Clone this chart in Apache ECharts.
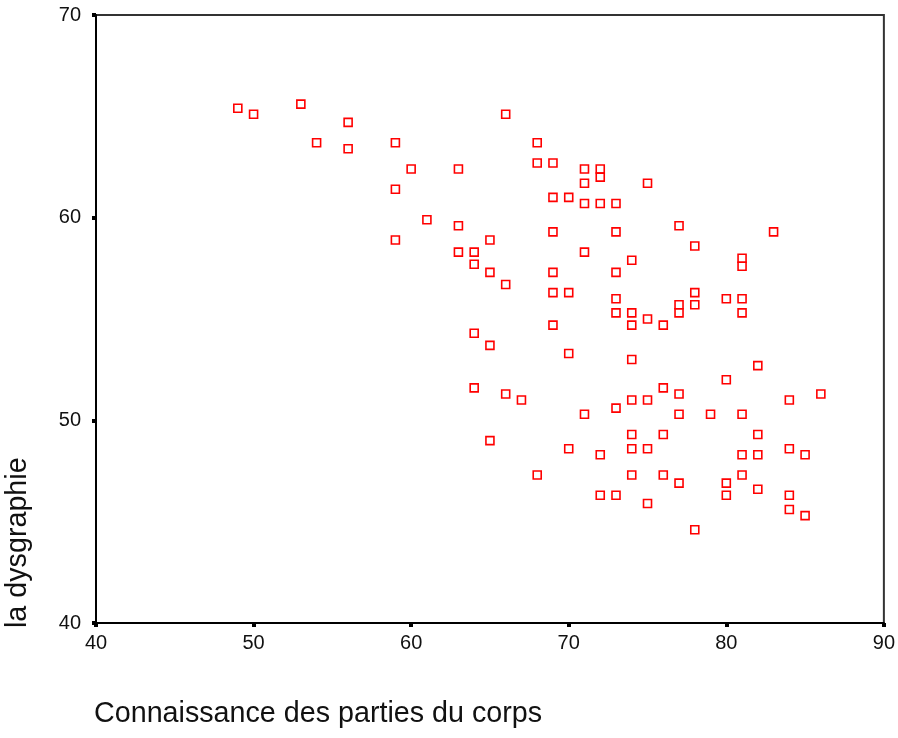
<!DOCTYPE html>
<html>
<head>
<meta charset="utf-8">
<script src="https://cdn.jsdelivr.net/npm/echarts@6/dist/echarts.min.js"></script>
<style>html,body{margin:0;padding:0;background:#fff}#c{width:898px;height:738px}</style>
</head>
<body>
<div id="c"></div>
<script>
const xTicks = [40, 50, 60, 70, 80, 90];
const yTicks = [40, 50, 60, 70];
const xTitle = "Connaissance des parties du corps";
const yTitle = "la dysgraphie";

const connaissance = [
  49, 50, 53, 56, 54, 56, 66, 59, 68, 60, 63, 68, 69, 71, 72, 72, 71, 75, 59, 69,
  70, 71, 72, 73, 61, 63, 59, 65, 69, 73, 77, 63, 64, 71, 64, 74, 65, 69, 73, 66,
  69, 70, 73, 73, 74, 74, 75, 76, 77, 77, 69, 64, 83, 78, 81, 81, 78, 80, 81, 78,
  81, 65, 70, 74, 64, 66, 67, 71, 73, 74, 75, 76, 65, 70, 72, 74, 74, 75, 76, 68,
  74, 76, 72, 73, 75, 82, 80, 77, 84, 86, 77, 79, 81, 82, 81, 82, 84, 85, 77, 80,
  80, 81, 82, 84, 84, 85, 78
];
const dysgraphie = [
  65.4, 65.1, 65.6, 64.7, 63.7, 63.4, 65.1, 63.7, 63.7, 62.4, 62.4, 62.7, 62.7, 62.4, 62.4, 62.0, 61.7, 61.7, 61.4, 61.0,
  61.0, 60.7, 60.7, 60.7, 59.9, 59.6, 58.9, 58.9, 59.3, 59.3, 59.6, 58.3, 58.3, 58.3, 57.7, 57.9, 57.3, 57.3, 57.3, 56.7,
  56.3, 56.3, 56.0, 55.3, 55.3, 54.7, 55.0, 54.7, 55.7, 55.3, 54.7, 54.3, 59.3, 58.6, 58.0, 57.6, 56.3, 56.0, 56.0, 55.7,
  55.3, 53.7, 53.3, 53.0, 51.6, 51.3, 51.0, 50.3, 50.6, 51.0, 51.0, 51.6, 49.0, 48.6, 48.3, 49.3, 48.6, 48.6, 49.3, 47.3,
  47.3, 47.3, 46.3, 46.3, 45.9, 52.7, 52.0, 51.3, 51.0, 51.3, 50.3, 50.3, 50.3, 49.3, 48.3, 48.3, 48.6, 48.3, 46.9, 46.9,
  46.3, 47.3, 46.6, 46.3, 45.6, 45.3, 44.6
];

const points = connaissance.map((x, i) => [x, dysgraphie[i]]);
const FONT = '"Liberation Sans", Arial, sans-serif';

const chart = echarts.init(document.getElementById('c'), null, {renderer: 'canvas'});
chart.setOption({
  backgroundColor: '#ffffff',
  animation: false,
  grid: {
    left: 96, top: 15, right: 11, bottom: 115,
    show: true, borderColor: '#333', borderWidth: 2, backgroundColor: 'transparent'
  },
  xAxis: {
    type: 'value',
    min: xTicks[0], max: xTicks[xTicks.length - 1], interval: 10,
    axisLine: {show: true, onZero: false, lineStyle: {color: '#000', width: 2}},
    axisTick: {show: true, inside: false, length: 4, lineStyle: {color: '#000', width: 4}},
    axisLabel: {color: '#111', fontSize: 20, fontFamily: FONT, margin: 10},
    splitLine: {show: false}
  },
  yAxis: {
    type: 'value',
    min: yTicks[0], max: yTicks[yTicks.length - 1], interval: 10,
    axisLine: {show: true, onZero: false, lineStyle: {color: '#000', width: 2}},
    axisTick: {show: true, inside: false, length: 4, lineStyle: {color: '#000', width: 4}},
    axisLabel: {color: '#111', fontSize: 20, fontFamily: FONT, margin: 15},
    splitLine: {show: false}
  },
  graphic: [
    {
      type: 'text', left: 94, top: 700,
      style: {text: xTitle, fill: '#111', font: '28.7px ' + FONT}
    },
    {
      type: 'text', x: 4, y: 628, rotation: Math.PI / 2,
      style: {text: yTitle, fill: '#111', font: '28.7px ' + FONT, align: 'left', verticalAlign: 'top'}
    }
  ],
  series: [{
    type: 'scatter',
    data: points,
    symbol: 'rect',
    symbolSize: 8,
    itemStyle: {color: '#ffffff', borderColor: '#ff0000', borderWidth: 1.6, opacity: 1},
    emphasis: {disabled: true}
  }]
});
</script>
</body>
</html>
